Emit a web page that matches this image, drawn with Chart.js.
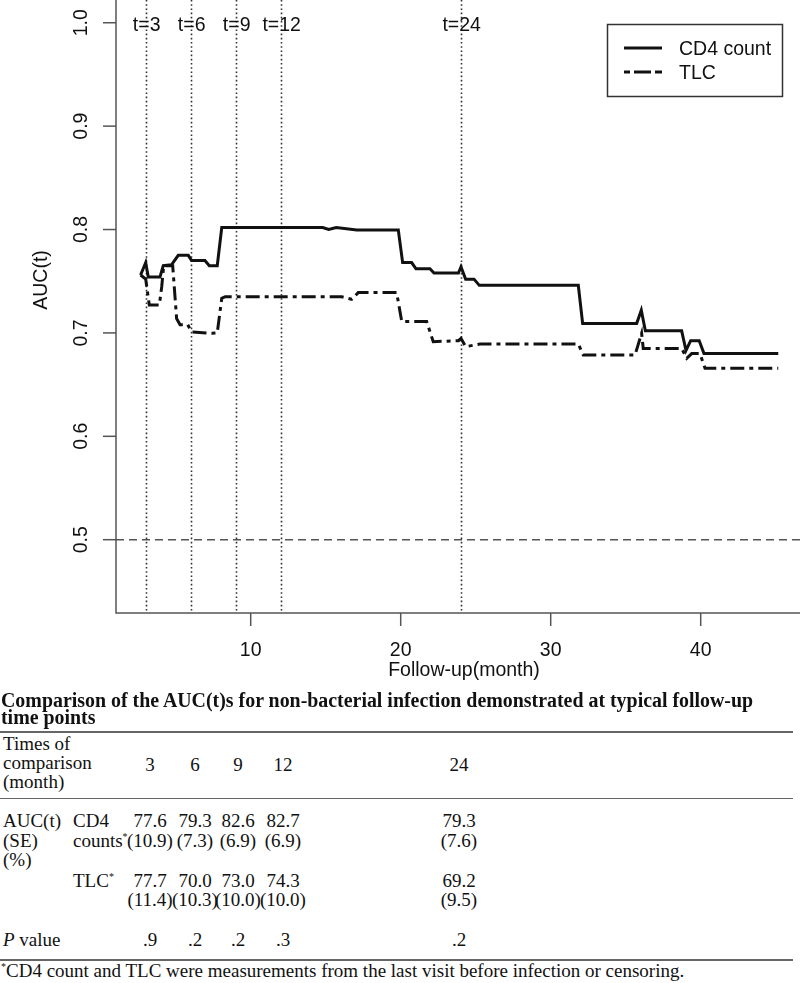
<!DOCTYPE html>
<html><head><meta charset="utf-8">
<script src="https://cdn.jsdelivr.net/npm/chart.js@4.4.0/dist/chart.umd.min.js"></script>
<style>
html,body{margin:0;padding:0;background:#fff;}
#wrap{position:relative;width:800px;height:983px;overflow:hidden;background:#fff;}
#c{position:absolute;left:0;top:0;}
.t{position:absolute;font-family:"Liberation Serif","Times New Roman",serif;font-size:19px;line-height:19px;color:#111;white-space:nowrap;}
.rule{position:absolute;left:0;width:793px;background:#666;}
sup{font-size:10px;line-height:0;vertical-align:7px;}
</style></head><body>
<div id="wrap"><canvas id="c" width="800" height="690"></canvas><div id="tbl"></div></div>
<script>
// ---- plot data ----
const cd4Time = [2.66,3.0,3.17,3.95,4.17,4.73,5.17,5.84,6.06,6.95,7.24,7.77,8.07,14.8,15.2,15.7,17.07,19.84,20.13,20.73,21.02,21.95,22.22,23.85,24.02,24.33,24.89,25.24,31.84,32.13,35.73,36.04,36.31,38.73,39.02,39.33,39.9,40.22,45.17];
const cd4Auc  = [0.756,0.768,0.754,0.754,0.765,0.766,0.775,0.775,0.770,0.770,0.765,0.765,0.802,0.802,0.800,0.802,0.7995,0.7995,0.768,0.768,0.762,0.762,0.758,0.758,0.764,0.752,0.752,0.746,0.746,0.709,0.709,0.722,0.702,0.702,0.683,0.6925,0.6925,0.680,0.680];
const tlcTime = [2.66,3.0,3.24,3.91,4.07,4.2,4.8,5.06,5.29,5.8,6.06,7.4,7.77,8.07,8.3,16.07,16.73,17.17,19.73,20.07,21.73,22.17,23.85,24.02,24.33,25.29,31.84,32.17,35.62,36.06,36.17,38.73,39.07,39.4,39.95,40.29,45.17];
const tlcAuc  = [0.756,0.752,0.727,0.727,0.745,0.765,0.765,0.714,0.708,0.708,0.701,0.6996,0.700,0.7335,0.735,0.735,0.7325,0.739,0.739,0.711,0.711,0.6915,0.6925,0.6948,0.6867,0.6893,0.6893,0.6786,0.6786,0.6996,0.685,0.685,0.6754,0.680,0.680,0.6658,0.6658];
const seriesNames = ["CD4 count","TLC"];
const timePoints = [3,6,9,12,24];
const refLevel = 0.5;
const xTicks = [10,20,30,40];
const yTicks = [0.5,0.6,0.7,0.8,0.9,1.0];
const yTickLabels = ["0.5","0.6","0.7","0.8","0.9","1.0"];
const xTitle = "Follow-up(month)";
const yTitle = "AUC(t)";

// ---- table data ----
const tableTitle = ["Comparison of the AUC(t)s for non-bacterial infection demonstrated at typical follow-up","time points"];
const compTimes = ["3","6","9","12","24"];
const cd4Pct = ["77.6","79.3","82.6","82.7","79.3"];
const cd4SE  = ["(10.9)","(7.3)","(6.9)","(6.9)","(7.6)"];
const tlcPct = ["77.7","70.0","73.0","74.3","69.2"];
const tlcSE  = ["(11.4)","(10.3)","(10.0)","(10.0)","(9.5)"];
const pVals  = [".9",".2",".2",".3",".2"];
const footnote = "CD4 count and TLC were measurements from the last visit before infection or censoring.";

const SANS = '"Liberation Sans", Arial, sans-serif';
const deco = {
  id:'deco',
  beforeDatasetsDraw(chart){
    const {ctx, chartArea:a, scales:{x,y}} = chart;
    ctx.save();
    ctx.strokeStyle='#555'; ctx.lineWidth=1.5; ctx.setLineDash([8,5]);
    const py=y.getPixelForValue(refLevel);
    ctx.beginPath(); ctx.moveTo(a.left,py); ctx.lineTo(a.right,py); ctx.stroke();
    ctx.setLineDash([1.6,2.6]); ctx.strokeStyle='#333'; ctx.lineWidth=1.6;
    timePoints.forEach(t=>{const px=Math.round(x.getPixelForValue(t))+0.5; ctx.beginPath(); ctx.moveTo(px,a.top); ctx.lineTo(px,a.bottom); ctx.stroke();});
    ctx.restore();
  },
  afterDraw(chart){
    const {ctx, chartArea:a, scales:{x,y}} = chart;
    ctx.save();
    ctx.setLineDash([]);
    ctx.strokeStyle='#555'; ctx.lineWidth=1.5;
    ctx.beginPath(); ctx.moveTo(a.left,a.top); ctx.lineTo(a.left,a.bottom); ctx.lineTo(a.right,a.bottom); ctx.stroke();
    ctx.fillStyle='#111';
    ctx.font='19.5px '+SANS;
    yTicks.forEach((v,i)=>{
      const py=y.getPixelForValue(v);
      ctx.beginPath(); ctx.moveTo(a.left-13,py); ctx.lineTo(a.left,py); ctx.stroke();
      ctx.save(); ctx.translate(87,py); ctx.rotate(-Math.PI/2);
      ctx.textAlign='center'; ctx.textBaseline='alphabetic'; ctx.fillText(yTickLabels[i],0,0); ctx.restore();
    });
    xTicks.forEach(v=>{
      const px=x.getPixelForValue(v);
      ctx.beginPath(); ctx.moveTo(px,a.bottom); ctx.lineTo(px,a.bottom+13); ctx.stroke();
      ctx.textAlign='center'; ctx.textBaseline='alphabetic'; ctx.fillText(String(v),px,656);
    });
    ctx.textAlign='center';
    ctx.fillText(xTitle,464,676);
    ctx.save(); ctx.translate(47,280); ctx.rotate(-Math.PI/2); ctx.fillText(yTitle,0,0); ctx.restore();
    timePoints.forEach(t=>{ ctx.fillText('t='+t, x.getPixelForValue(t)+1, 30.5); });
    ctx.strokeStyle='#333'; ctx.lineWidth=1.5;
    ctx.strokeRect(607.5,24.5,175,72);
    ctx.strokeStyle='#111'; ctx.lineWidth=3;
    ctx.beginPath(); ctx.moveTo(624,48); ctx.lineTo(662,48); ctx.stroke();
    ctx.setLineDash([6,4,17,4,7,4]);
    ctx.beginPath(); ctx.moveTo(624,72); ctx.lineTo(662,72); ctx.stroke();
    ctx.setLineDash([]);
    ctx.textAlign='left';
    ctx.fillText(seriesNames[0],679,55);
    ctx.fillText(seriesNames[1],679,79);
    ctx.restore();
  }
};

new Chart(document.getElementById('c'), {
  type:'scatter',
  data:{datasets:[
    {label:seriesNames[0], data:cd4Time.map((t,i)=>({x:t,y:cd4Auc[i]})), showLine:true, borderColor:'#111', borderWidth:3, pointRadius:0, tension:0, fill:false},
    {label:seriesNames[1], data:tlcTime.map((t,i)=>({x:t,y:tlcAuc[i]})), showLine:true, borderColor:'#111', borderWidth:3, borderDash:[14,5,4,5], pointRadius:0, tension:0, fill:false}
  ]},
  options:{
    responsive:false, animation:false, events:[], devicePixelRatio:1,
    layout:{padding:{left:116,right:0,top:0,bottom:77}},
    plugins:{legend:{display:false}, tooltip:{enabled:false}},
    scales:{
      x:{type:'linear', min:1.02, max:46.62, display:false},
      y:{type:'linear', min:0.4291, max:1.022, display:false}
    }
  },
  plugins:[deco]
});

// ---- table ----
const tbl=document.getElementById('tbl');
function txt(html, left, baseline, opts={}){
  const d=document.createElement('div'); d.className='t'; d.innerHTML=html;
  d.style.top=(baseline-16)+'px';
  if(opts.center!==undefined){ d.style.left=(opts.center-60)+'px'; d.style.width='120px'; d.style.textAlign='center'; }
  else d.style.left=left+'px';
  if(opts.style) d.setAttribute('style', d.getAttribute('style')+';'+opts.style);
  tbl.appendChild(d); return d;
}
function rule(top,h){ const r=document.createElement('div'); r.className='rule'; r.style.top=top+'px'; r.style.height=h+'px'; tbl.appendChild(r); }
const colC=[150,195,238,283,459];
txt(tableTitle.join('<br>'),1,707,{style:'font-weight:bold;font-size:19.9px;line-height:17.3px;top:691.5px'});
rule(731,1.5);
txt('Times of<br>comparison<br>(month)',3,750);
compTimes.forEach((v,i)=>txt(v,0,771,{center:colC[i]}));
rule(797.5,1.5);
txt('AUC(t)<br>(SE)<br>(%)',3,827,{style:'line-height:19.5px'});
txt('CD4<br>counts<sup>*</sup>',73,827,{style:'line-height:19.5px'});
cd4Pct.forEach((v,i)=>txt(v+'<br>'+cd4SE[i],0,827,{center:colC[i],style:'line-height:19.5px'}));
txt('TLC<sup>*</sup>',73,886.5);
tlcPct.forEach((v,i)=>txt(v+'<br>'+tlcSE[i],0,886.5,{center:colC[i],style:'line-height:19.5px'}));
txt('<i>P</i> value',3,946);
pVals.forEach((v,i)=>txt(v,0,946,{center:colC[i]}));
rule(958.5,2);
txt('<sup>*</sup>'+footnote,1,977);
</script>
</body></html>
